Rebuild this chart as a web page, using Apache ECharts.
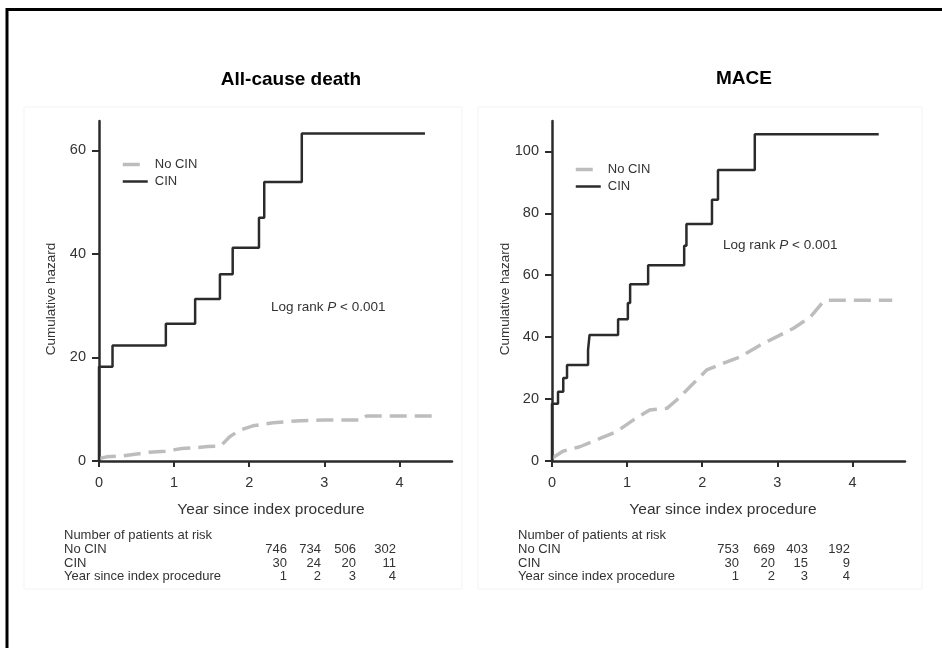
<!DOCTYPE html>
<html>
<head>
<meta charset="utf-8">
<title>Cumulative hazard - CIN</title>
<script src="https://cdn.jsdelivr.net/npm/echarts@6/dist/echarts.min.js"></script>
<style>
  html, body { margin: 0; padding: 0; background: #fff; }
  #main { width: 942px; height: 648px; }
</style>
</head>
<body>
<div id="main"></div>
<script>
// panel titles and series names
var panelTitles = ['All-cause death', 'MACE'];
var seriesNames = ['No CIN', 'CIN'];
var xTicks = [0, 1, 2, 3, 4];
var deathYTicks = [0, 20, 40, 60];
var maceYTicks = [0, 20, 40, 60, 80, 100];

// all-cause death, CIN (step curve)
var cinDeathT = [0, 0, 0.18, 0.89, 1.28, 1.61, 1.78, 2.13, 2.2, 2.7, 4.34];
var cinDeathV = [0, 18.2, 22.3, 26.5, 31.3, 36.1, 41.2, 47.0, 53.9, 63.3, 63.3];
// all-cause death, No CIN
var noCinDeathT = [0, 0.1, 0.33, 0.67, 0.88, 1.1, 1.3, 1.45, 1.62, 1.74, 1.88, 2.05, 2.32, 2.68, 3.0, 3.5, 3.56, 4.45];
var noCinDeathV = [0.5, 0.8, 1.0, 1.7, 1.9, 2.4, 2.6, 2.8, 2.9, 4.7, 6.0, 6.8, 7.4, 7.8, 7.9, 7.9, 8.7, 8.7];

// MACE, CIN
var cinMaceT = [0, 0, 0.08, 0.15, 0.2, 0.48, 0.5, 0.88, 1.01, 1.04, 1.28, 1.76, 1.79, 2.13, 2.21, 2.7, 4.35];
var cinMaceV = [0, 18.5, 22.4, 26.8, 31, 35.8, 40.7, 45.8, 51, 57.1, 63.2, 69.5, 76.5, 84.4, 94, 105.5, 105.5];
// MACE, No CIN
var noCinMaceT = [0, 0.15, 0.37, 0.64, 0.86, 1.08, 1.3, 1.53, 1.66, 1.88, 2.06, 2.33, 2.5, 2.77, 2.99, 3.21, 3.44, 3.61, 3.66, 4.53];
var noCinMaceV = [0.9, 3.2, 4.6, 7.3, 9.5, 13.2, 16.5, 17, 19.7, 25, 29.4, 32, 33.6, 37.4, 40.1, 42.8, 46.5, 51.4, 51.9, 51.9];

// number at risk tables
var riskYears = [1, 2, 3, 4];
var riskNoCinDeath = [746, 734, 506, 302];
var riskCinDeath = [30, 24, 20, 11];
var riskNoCinMace = [753, 669, 403, 192];
var riskCinMace = [30, 20, 15, 9];

var FONT = '"Liberation Sans", Arial, Helvetica, sans-serif';
var GRAY = '#bdbdbd';
var DARK = '#2b2b2b';

function zip(t, v) {
  var out = [];
  for (var i = 0; i < t.length; i++) out.push([t[i], v[i]]);
  return out;
}

function xAxisOf(grid) {
  return {
    type: 'value', gridIndex: grid, min: 0, max: 4.7,
    axisLine: { lineStyle: { color: DARK, width: 2.5 } },
    axisTick: { length: 6, lineStyle: { color: DARK, width: 2 }, customValues: xTicks },
    axisLabel: { customValues: xTicks, margin: 14, fontSize: 14.5, color: '#333', fontFamily: FONT },
    splitLine: { show: false }
  };
}

function yAxisOf(grid, max, ticks) {
  return {
    type: 'value', gridIndex: grid, min: 0, max: max,
    axisLine: { show: true, lineStyle: { color: DARK, width: 2.5 } },
    axisTick: { show: true, length: 7, lineStyle: { color: DARK, width: 2 }, customValues: ticks },
    axisLabel: { customValues: ticks, margin: 13, fontSize: 14.5, color: '#333', fontFamily: FONT },
    splitLine: { show: false }
  };
}

function noCinSeries(idx, data) {
  return {
    name: seriesNames[0], type: 'line', xAxisIndex: idx, yAxisIndex: idx,
    symbol: 'none', data: data, z: 2,
    itemStyle: { color: GRAY },
    lineStyle: { color: GRAY, width: 3.5, type: [17, 8] }
  };
}

function cinSeries(idx, data) {
  return {
    name: seriesNames[1], type: 'line', step: 'end', xAxisIndex: idx, yAxisIndex: idx,
    symbol: 'none', data: data, z: 3,
    itemStyle: { color: DARK },
    lineStyle: { color: DARK, width: 2.5 }
  };
}

function legendAt(left, top) {
  return {
    data: seriesNames, orient: 'vertical', left: left, top: top,
    itemWidth: 25, itemHeight: 10, itemGap: 4,
    itemStyle: { opacity: 0 },
    lineStyle: { width: 'inherit' },
    textStyle: { fontSize: 13, color: '#333', fontFamily: FONT, padding: [0, 0, 0, 2] }
  };
}

function logRank(x, y) {
  return {
    type: 'text', left: x, top: y - 8,
    style: {
      text: '{a|Log rank }{b|P}{a| < 0.001}',
      rich: {
        a: { fontSize: 13.5, fill: '#333', fontFamily: FONT },
        b: { fontSize: 13.5, fill: '#333', fontFamily: FONT, fontStyle: 'italic' }
      }
    }
  };
}

function txt(x, y, s, size, align, extra) {
  var o = {
    type: 'text', x: x, y: y,
    style: { text: s, fontSize: size, fill: '#333', fontFamily: FONT, align: align || 'left', verticalAlign: 'middle' }
  };
  if (extra) for (var k in extra) o[k] = extra[k];
  return o;
}

// at-risk table under each panel
function riskTable(x0, cols, noCin, cin) {
  var rowsY = [535, 549.5, 563, 576.5];
  var els = [
    txt(x0, rowsY[0], 'Number of patients at risk', 13),
    txt(x0, rowsY[1], 'No CIN', 13),
    txt(x0, rowsY[2], 'CIN', 13),
    txt(x0, rowsY[3], 'Year since index procedure', 13)
  ];
  for (var i = 0; i < riskYears.length; i++) {
    els.push(txt(cols[i], rowsY[1], String(noCin[i]), 13, 'right'));
    els.push(txt(cols[i], rowsY[2], String(cin[i]), 13, 'right'));
    els.push(txt(cols[i], rowsY[3], String(riskYears[i]), 13, 'right'));
  }
  return els;
}

var graphics = [
  // outer frame (right and bottom edges cropped)
  { type: 'rect', shape: { x: 7, y: 9.5, width: 960, height: 680 }, style: { fill: 'none', stroke: '#000', lineWidth: 3 } },
  // faint panel boxes
  { type: 'rect', shape: { x: 24, y: 107, width: 438, height: 482 }, style: { fill: 'none', stroke: '#f3f3f3', lineWidth: 1 } },
  { type: 'rect', shape: { x: 478, y: 107, width: 444, height: 482 }, style: { fill: 'none', stroke: '#f3f3f3', lineWidth: 1 } },
  logRank(271, 308),
  logRank(723, 246),
  txt(51.7, 299, 'Cumulative hazard', 13.5, 'center', { rotation: Math.PI / 2 }),
  txt(505, 299, 'Cumulative hazard', 13.5, 'center', { rotation: Math.PI / 2 }),
  txt(271, 510, 'Year since index procedure', 15.5, 'center'),
  txt(723, 510, 'Year since index procedure', 15.5, 'center')
];
graphics = graphics.concat(riskTable(64, [287, 321, 356, 396], riskNoCinDeath, riskCinDeath));
graphics = graphics.concat(riskTable(518, [739, 775, 808, 850], riskNoCinMace, riskCinMace));

var chart = echarts.init(document.getElementById('main'), null, { renderer: 'canvas' });
var option = {
  backgroundColor: '#fff',
  animation: false,
  title: [
    { text: panelTitles[0], left: 286, top: 65, textAlign: 'center',
      textStyle: { fontSize: 19, fontWeight: 'bold', color: '#000', fontFamily: FONT } },
    { text: panelTitles[1], left: 739, top: 64, textAlign: 'center',
      textStyle: { fontSize: 19, fontWeight: 'bold', color: '#000', fontFamily: FONT } }
  ],
  legend: [legendAt(116, 153), legendAt(569, 158)],
  grid: [
    { left: 99, top: 121, width: 353, height: 340 },
    { left: 552, top: 121, width: 353, height: 340 }
  ],
  xAxis: [xAxisOf(0), xAxisOf(1)],
  yAxis: [yAxisOf(0, 65.7, deathYTicks), yAxisOf(1, 109.8, maceYTicks)],
  series: [
    noCinSeries(0, zip(noCinDeathT, noCinDeathV)),
    cinSeries(0, zip(cinDeathT, cinDeathV)),
    noCinSeries(1, zip(noCinMaceT, noCinMaceV)),
    cinSeries(1, zip(cinMaceT, cinMaceV))
  ],
  graphic: graphics
};
chart.setOption(option);
window.addEventListener('resize', function () { chart.resize(); });
</script>
</body>
</html>
